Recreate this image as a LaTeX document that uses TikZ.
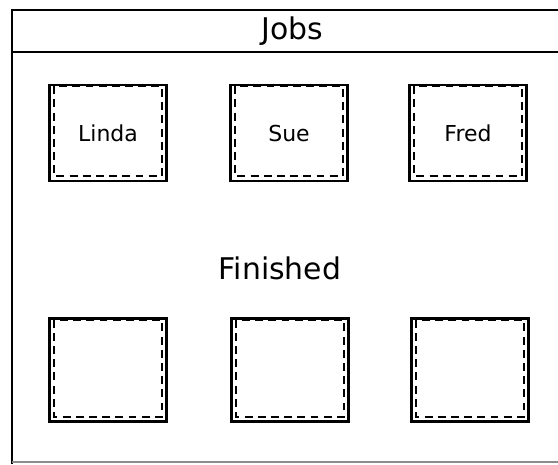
\documentclass[tikz,border=0pt]{standalone}
\usepackage{fontspec}
\setmainfont{DejaVu Sans}
\usetikzlibrary{positioning,calc}

\begin{document}
\begin{tikzpicture}[x=0.02cm,y=-0.02cm,font=\fontsize{12.5}{14}\selectfont,
            frameline/.style={line width=1.2pt},
            jobbox/.style={draw,line width=1.6pt,minimum width=2.34cm,minimum height=1.92cm,inner sep=0pt},
            donebox/.style={jobbox,minimum height=2.06cm},
            innerdash/.style={line width=1.2pt,dash pattern=on 4.5pt off 3pt},
            heading/.style={font=\fontsize{17}{20}\selectfont}]
          \useasboundingbox (0,0) rectangle (558,464);
          % outer frame, cut off on the right
          \coordinate (tl) at (12,10);
          \coordinate (tr) at (558,10);
          \coordinate (bl) at (12,464);
          \coordinate (ml) at (12,52);
          \coordinate (mr) at (558,52);
          \coordinate (bll) at (12,462);
          \coordinate (brr) at (558,462);
          \draw[frameline] (tr) -- (tl) -- (bl);
          \draw[frameline] (ml) -- (mr);
          \draw[line width=0.6pt,black!45] (bll) -- (brr);
          \node[heading] (jobs) at (292,31) {Jobs};
          \node[heading] (finished) at (280,268) {Finished};
          % job boxes
          \foreach \n/\x/\lab in {linda/108/Linda,sue/289/Sue,fred/468/Fred}{
            \node[jobbox] (\n) at (\x,133) {\lab};
            \draw[innerdash] ([shift={(3.5pt,-1.5pt)}]\n.north west) rectangle ([shift={(-3.5pt,3.5pt)}]\n.south east);}
          % finished boxes
          \foreach \n/\x in {doneA/108,doneB/290,doneC/470}{
            \node[donebox] (\n) at (\x,370) {};
            \draw[innerdash] ([shift={(3.5pt,-1.5pt)}]\n.north west) rectangle ([shift={(-3.5pt,3.5pt)}]\n.south east);}
        \end{tikzpicture}
\end{document}
